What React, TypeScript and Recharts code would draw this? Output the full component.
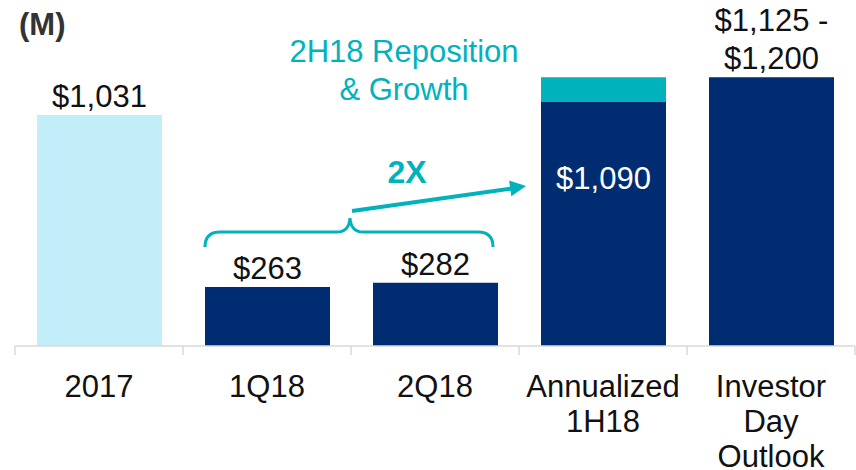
import { BarChart, Bar, XAxis, YAxis, Cell, LabelList } from "recharts";

const categories = ["2017", "1Q18", "2Q18", "Annualized\n1H18", "Investor\nDay\nOutlook"];
const baseValues = [1031, 263, 282, 1090, 1200];
const growthValues = [0, 0, 0, 110, 0];
const valueLabels = ["$1,031", "$263", "$282", "$1,090", "$1,125 -\n$1,200"];

const data = categories.map((name, i) => ({
  name,
  base: baseValues[i],
  growth: growthValues[i],
  label: valueLabels[i],
}));

const NAVY = "#002D72";
const LIGHT = "#C2EEFA";
const TEAL = "#00B2BB";
const TEXT = "#111";
const FONT = "'Liberation Sans', Arial, sans-serif";
const BAND = 168;

const barColors = [LIGHT, NAVY, NAVY, NAVY, NAVY];

function CategoryTick(props: any) {
  const { x, y, payload, index } = props;
  const lines = String(payload.value).split("\n");
  const half = BAND / 2;
  return (
    <g>
      <line x1={x - half} x2={x - half} y1={y} y2={y + 9} stroke="#D9D9D9" strokeWidth={1.5} />
      {index === categories.length - 1 && (
        <line x1={x + half} x2={x + half} y1={y} y2={y + 9} stroke="#D9D9D9" strokeWidth={1.5} />
      )}
      <text x={x} y={y + 51} textAnchor="middle" fill={TEXT} fontSize={31} fontFamily={FONT}>
        {lines.map((l, i) => (
          <tspan key={i} x={x} dy={i === 0 ? 0 : 35}>
            {l}
          </tspan>
        ))}
      </text>
    </g>
  );
}

function ValueLabel(props: any) {
  const { x, y, width, index } = props;
  const text = valueLabels[index];
  const cx = x + width / 2;
  if (index === 3) {
    return (
      <text x={cx} y={y + 87} textAnchor="middle" fill="#fff" fontSize={31} fontFamily={FONT}>
        {text}
      </text>
    );
  }
  const lines = text.split("\n");
  const lastBase = y - 8;
  return (
    <text x={cx} y={lastBase - (lines.length - 1) * 38} textAnchor="middle" fill={TEXT} fontSize={31} fontFamily={FONT}>
      {lines.map((l, i) => (
        <tspan key={i} x={cx} dy={i === 0 ? 0 : 38}>
          {l}
        </tspan>
      ))}
    </text>
  );
}

export default function App() {
  return (
    <div style={{ position: "absolute", left: 0, top: 0, width: 856, height: 470, background: "#fff" }}>
      <BarChart
        width={856}
        height={470}
        data={data}
        margin={{ top: 0, right: 1, left: 15, bottom: 0 }}
        barSize={125}
      >
        <XAxis
          dataKey="name"
          interval={0}
          axisLine={{ stroke: "#D9D9D9", strokeWidth: 1.5 }}
          tickLine={false}
          tickSize={0}
          tickMargin={0}
          tick={<CategoryTick />}
          height={124}
        />
        <YAxis hide domain={[0, 1545]} />
        <Bar dataKey="base" stackId="a" isAnimationActive={false}>
          {data.map((_, i) => (
            <Cell key={i} fill={barColors[i]} />
          ))}
          <LabelList dataKey="label" content={<ValueLabel />} />
        </Bar>
        <Bar dataKey="growth" stackId="a" fill={TEAL} isAnimationActive={false} />
      </BarChart>
      <svg
        width={856}
        height={470}
        style={{ position: "absolute", left: 0, top: 0, pointerEvents: "none" }}
      >
        <text x={19} y={35} fill="#333" fontSize={31} fontWeight="bold" fontFamily={FONT}>
          (M)
        </text>
        <text x={404} y={62} textAnchor="middle" fill={TEAL} fontSize={31} fontFamily={FONT}>
          <tspan x={404} dy={0}>2H18 Reposition</tspan>
          <tspan x={404} dy={38}>&amp; Growth</tspan>
        </text>
        <text x={407} y={183} textAnchor="middle" fill={TEAL} fontSize={32} fontWeight="bold" fontFamily={FONT}>
          2X
        </text>
        <line x1={352} y1={211} x2={512} y2={188.5} stroke={TEAL} strokeWidth={4} />
        <polygon points="526,186 511.3,196.2 509.1,180.4" fill={TEAL} />
        <path
          d="M205,247 Q205,232 220,232 L337,232 Q349,232 350,218 Q351,232 363,232 L478,232 Q493,232 493,247"
          fill="none"
          stroke={TEAL}
          strokeWidth={3}
        />
      </svg>
    </div>
  );
}
